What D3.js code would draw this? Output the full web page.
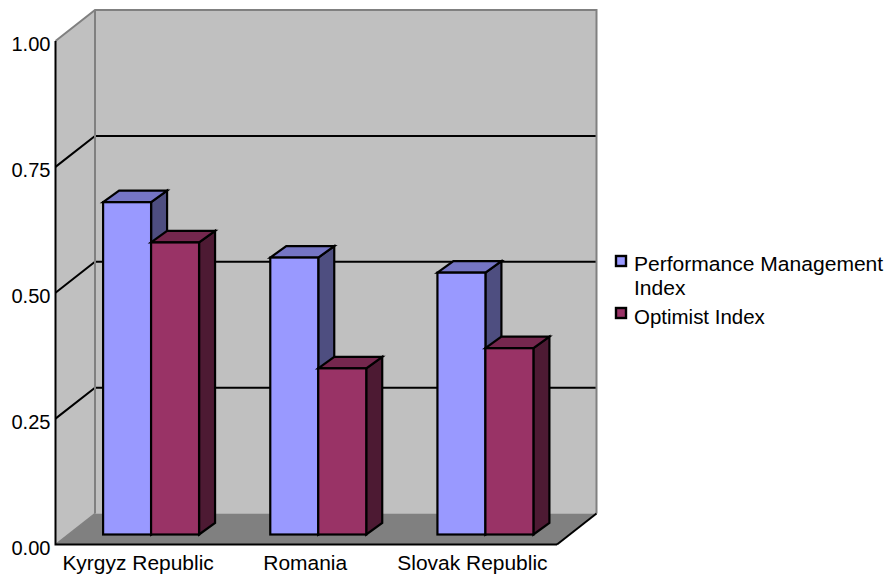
<!DOCTYPE html>
<html>
<head>
<meta charset="utf-8">
<script src="https://cdn.jsdelivr.net/npm/d3@7"></script>
<style>
html,body{margin:0;padding:0;background:#fff}
text{font-family:"Liberation Sans",Arial,sans-serif;font-size:19.5px;fill:#000}
</style>
</head>
<body>
<svg id="chart" width="888" height="576"></svg>
<script>
const categories = ["Kyrgyz Republic", "Romania", "Slovak Republic"];
const seriesNames = ["Performance Management Index", "Optimist Index"];
const legendLines = [["Performance Management", "Index"], ["Optimist Index"]];
const performanceValues = [0.66, 0.55, 0.52];
const optimistValues = [0.58, 0.33, 0.37];
const yTicks = [0, 0.25, 0.5, 0.75, 1];

const fills = [
  {front: "#9999ff", top: "#7575c4", side: "#4e4e80"},
  {front: "#993366", top: "#75274e", side: "#4d1a33"}
];

// Oblique projection of the box: depth runs up and to the right.
const wallDx = 39.5, wallDy = -31;
const barDepthDx = 16, barDepthDy = -11.5;
const barPlaneDx = 12, barPlaneDy = -10;

const svg = d3.select("#chart");
const x = d3.scaleBand().domain(categories).range([55.5, 557]);
const y = d3.scaleLinear().domain([0, 1]).range([544.5, 41]);
const bandInner = d3.scaleBand().domain([0, 1]).range([0, x.bandwidth()])
  .paddingInner(0).paddingOuter(0.742);

const poly = pts => pts.map(p => p.join(",")).join(" ");
const x0 = x.range()[0], x1 = x.range()[1];
const y0 = y(0), yTop = y(1);

// Back wall, side wall, floor
svg.append("polygon").attr("fill", "#c0c0c0")
  .attr("points", poly([[x0 + wallDx, yTop + wallDy], [x1 + wallDx, yTop + wallDy], [x1 + wallDx, y0 + wallDy], [x0 + wallDx, y0 + wallDy]]));
svg.append("polygon").attr("fill", "#c0c0c0")
  .attr("points", poly([[x0, yTop], [x0 + wallDx, yTop + wallDy], [x0 + wallDx, y0 + wallDy], [x0, y0]]));
svg.append("polygon").attr("fill", "#808080")
  .attr("points", poly([[x0, y0], [x0 + wallDx, y0 + wallDy], [x1 + wallDx, y0 + wallDy], [x1, y0]]));

// Gridlines wrapping the side and back walls
yTicks.filter(t => t > 0 && t < 1).forEach(t => {
  svg.append("polyline").attr("fill", "none").attr("stroke", "#000").attr("stroke-width", 2)
    .attr("points", poly([[x0, y(t)], [x0 + wallDx, y(t) + wallDy], [x1 + wallDx, y(t) + wallDy]]));
});

// Wall edges
svg.append("polyline").attr("fill", "none").attr("stroke", "#808080").attr("stroke-width", 2)
  .attr("points", poly([[x0, yTop], [x0 + wallDx, yTop + wallDy], [x1 + wallDx, yTop + wallDy], [x1 + wallDx, y0 + wallDy]]));
svg.append("line").attr("stroke", "#808080").attr("stroke-width", 2)
  .attr("x1", x0 + wallDx).attr("x2", x0 + wallDx).attr("y1", yTop + wallDy).attr("y2", y0 + wallDy);
svg.append("line").attr("stroke", "#808080").attr("stroke-width", 1.5)
  .attr("x1", x0).attr("y1", y0).attr("x2", x0 + wallDx).attr("y2", y0 + wallDy);
svg.append("line").attr("stroke", "#000").attr("stroke-width", 2)
  .attr("x1", x1).attr("y1", y0).attr("x2", x1 + wallDx).attr("y2", y0 + wallDy);

// Front axes
svg.append("polyline").attr("fill", "none").attr("stroke", "#000").attr("stroke-width", 2)
  .attr("points", poly([[x0, yTop], [x0, y0], [x1, y0]]));

// Bars, back to front within each category
const baseY = y0 + barPlaneDy;
const scaleH = v => y(0) - y(v);
const outline = sel => sel.attr("stroke", "#000").attr("stroke-width", 2.2).attr("stroke-linejoin", "miter");

categories.forEach((cat, i) => {
  [performanceValues[i], optimistValues[i]].forEach((v, s) => {
    const l = x(cat) + bandInner(s) + barPlaneDx;
    const r = l + bandInner.bandwidth();
    const t = baseY - scaleH(v);
    const g = svg.append("g").attr("class", "bar");
    g.append("polygon").attr("fill", fills[s].side).call(outline)
      .attr("points", poly([[r, t], [r + barDepthDx, t + barDepthDy], [r + barDepthDx, baseY + barDepthDy], [r, baseY]]));
    g.append("polygon").attr("fill", fills[s].top).call(outline)
      .attr("points", poly([[l, t], [l + barDepthDx, t + barDepthDy], [r + barDepthDx, t + barDepthDy], [r, t]]));
    g.append("rect").attr("fill", fills[s].front).call(outline)
      .attr("x", l).attr("y", t).attr("width", r - l).attr("height", baseY - t);
  });
});

// Text is set slightly wide, so each label is stretched around its own anchor.
const wideText = (px, py, anchor, str, stretch) => svg.append("text")
  .attr("transform", `translate(${px},${py}) scale(${stretch},1)`)
  .attr("text-anchor", anchor).text(str);

// Axis labels
const yFmt = d3.format(".2f");
yTicks.forEach(t => wideText(50.5, y(t) + 10, "end", yFmt(t), 1.03));
categories.forEach(c => wideText(x(c) + x.bandwidth() / 2 - 1, 570, "middle", c, 1.075));

// Legend
const swatchX = 616, textX = 634;
const swatchY = [256, 308];
const baselines = [[270.5, 295], [324]];
seriesNames.forEach((name, s) => {
  svg.append("rect").attr("x", swatchX).attr("y", swatchY[s])
    .attr("width", 10).attr("height", 10).attr("fill", fills[s].front)
    .attr("stroke", "#000").attr("stroke-width", 2.4);
  legendLines[s].forEach((line, k) => wideText(textX, baselines[s][k], "start", line, s === 0 ? 1.08 : 1.05));
});
</script>
</body>
</html>
